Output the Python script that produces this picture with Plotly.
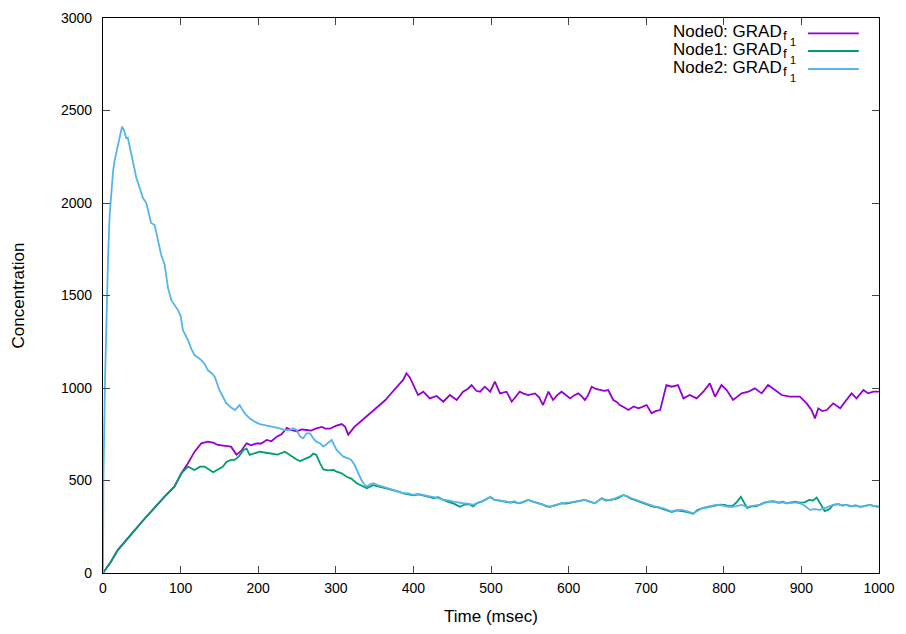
import plotly.graph_objects as go

# ---------------- data ----------------
t0 = [0, 10, 19, 30, 41, 55, 67, 80, 92, 101, 109.5, 118, 126.7, 135, 142, 148, 155, 165, 172, 178,
      185, 191, 198, 204, 211, 217, 224, 230, 237, 243, 250, 256, 262.5, 268, 275, 282, 287, 292.5, 300, 307.6,
      312, 316, 324, 331, 337, 344, 350, 357, 364, 370, 377, 382.7, 387, 391, 395, 398, 406, 412.8, 421, 430,
      438.5, 447, 455.8, 464, 470, 475, 481, 486, 492, 499, 505, 511.6, 520, 526.7, 531, 537, 542, 548, 556.7, 562,
      567, 574, 580, 585, 591, 596, 602, 607, 612.5, 617, 621, 625, 629.8, 635, 640.5, 646, 651, 657.6, 662, 666,
      672, 677, 684, 690, 695, 700.6, 707, 712, 718, 722, 726, 733, 741, 748, 756, 765, 773.6, 782, 788.7, 797,
      803.7, 812, 818, 823, 831.6, 840, 848.8, 857, 866, 874.6, 885, 898, 906.8, 913, 917.5, 921.8, 927, 932.6, 941, 950,
      958, 964.7, 971, 980, 986, 992.7, 1000]
v0 = [0, 60, 124, 180, 232, 300, 358, 415, 467, 539, 593, 656, 701, 710, 705, 692, 688, 683, 640, 660,
      701, 690, 701, 700, 719, 712, 737, 750, 785, 772, 766, 776, 773, 770, 782, 790, 780, 780, 795, 805,
      790, 748, 790, 815, 835, 863, 880, 908, 935, 965, 1000, 1025, 1045, 1079, 1060, 1034, 962, 980, 944, 957,
      926, 962, 935, 980, 995, 1016, 985, 980, 1007, 980, 1034, 971, 980, 926, 950, 980, 970, 962, 971, 950,
      908, 980, 935, 960, 980, 965, 944, 960, 971, 955, 935, 960, 1007, 995, 989, 985, 989, 935, 925, 908,
      895, 881, 900, 890, 898, 908, 863, 875, 881, 950, 1016, 1007, 1016, 944, 962, 944, 980, 1025, 953, 1016,
      989, 935, 955, 971, 980, 998, 971, 1016, 989, 962, 953, 953, 917, 881, 836, 890, 875, 881, 917, 890,
      935, 971, 944, 989, 971, 980, 980]

t1 = [0, 10, 19, 30, 41, 55, 67, 80, 92, 101, 109.5, 118, 125, 131, 142, 148, 154.6, 159, 165, 169.7,
      175, 181, 185, 189, 196, 202, 210, 217, 225, 234.5, 243, 249, 254, 261, 267, 271, 275, 280, 284, 290,
      297, 301, 307, 314, 320, 327, 334, 340, 348, 355, 361, 368, 374, 381, 387, 394, 400, 407, 413, 420,
      426, 432, 438.5, 445, 452, 460, 466, 472, 477, 482, 488, 494, 499, 505, 511, 518, 525, 530, 535, 541,
      548, 555, 561, 567, 571, 576, 583, 591, 597, 602, 608, 614, 621, 628, 634, 638, 642.6, 648, 655.5, 661,
      666, 670.5, 676, 681, 687, 693, 698, 704, 710, 715.6, 722, 727, 733, 739, 745.7, 752, 760.7, 766, 772, 778,
      785, 790, 795, 801, 806, 812, 817, 822, 826, 830, 836, 842, 846.6, 852, 858, 864, 870, 876, 881, 887,
      892, 898, 904, 910, 915, 919.7, 924, 930, 936, 941, 948, 953, 958, 964, 970, 975.5, 981, 988, 994, 1000]
v1 = [0, 60, 124, 180, 232, 300, 358, 415, 467, 539, 575, 557, 575, 575, 545, 560, 575, 600, 611, 611,
      630, 665, 672, 638, 650, 656, 650, 647, 640, 656, 629, 615, 605, 620, 629, 645, 638, 590, 560, 555,
      557, 548, 540, 520, 510, 485, 470, 458, 475, 468, 460, 455, 445, 440, 430, 425, 420, 425, 418, 412,
      405, 410, 395, 385, 375, 358, 370, 372, 360, 378, 386, 400, 410, 395, 390, 386, 380, 384, 377, 382,
      395, 385, 377, 370, 360, 358, 365, 377, 375, 380, 386, 390, 395, 385, 377, 390, 404, 392, 395, 400,
      410, 422, 412, 400, 392, 382, 372, 365, 358, 355, 345, 338, 330, 338, 335, 330, 320, 340, 350, 355,
      362, 365, 370, 368, 362, 365, 385, 412, 380, 352, 360, 362, 370, 380, 386, 388, 380, 385, 377, 380,
      385, 380, 382, 395, 392, 408, 375, 335, 345, 368, 372, 365, 368, 360, 365, 358, 362, 368, 362, 358]

t2 = [0, 0.5, 2.6, 4.3, 6.5, 8.6, 10.5, 12.9, 15, 17.2, 20, 22, 24.5, 27, 30, 32, 35, 38.7, 43, 47.3,
      51.5, 55.8, 60, 62, 66.6, 70.9, 75, 79.5, 83.8, 88, 92, 96.6, 100, 103, 109.5, 114, 118, 122, 126.7, 131,
      135, 140, 144, 150, 155, 159, 165, 170, 176, 182.6, 189, 195.5, 202, 208, 214, 221, 228, 234, 241, 245,
      249.6, 254, 258, 262.5, 266.8, 271, 275, 280, 284, 289, 294.7, 301, 305, 309.7, 316, 320, 324, 327, 333, 337,
      340, 344, 348, 354, 361, 367, 374, 380, 387, 393, 400, 406, 412.8, 419, 425.6, 432, 438.5, 445, 451.4, 458,
      464, 470, 477, 482, 488, 494, 499, 505, 511, 518, 525, 530, 535, 541, 548, 555, 561, 567, 571, 576,
      583, 591, 597, 602, 608, 614, 621, 628, 634, 642.6, 648, 655.5, 661, 666, 670.5, 676, 681, 687, 693, 698,
      704, 710, 715.6, 722, 727, 733, 739, 745.7, 752, 760.7, 766, 772, 778, 785, 790, 795, 801, 806, 812, 817,
      823, 829.5, 836, 841, 846.6, 852, 858, 863.8, 870, 876, 881, 887, 892, 898, 904, 911, 917, 924, 930, 935,
      941, 948, 953, 958, 964, 970, 975.5, 981, 988, 994, 1000]
v2 = [0, 500, 1043, 1395, 1700, 1935, 2060, 2169, 2230, 2277, 2331, 2360, 2413, 2395, 2351, 2353, 2297, 2223, 2135, 2081,
      2027, 2000, 1935, 1892, 1881, 1791, 1719, 1665, 1540, 1475, 1450, 1421, 1390, 1313, 1259, 1210, 1178, 1165, 1151, 1130,
      1097, 1080, 1061, 989, 950, 917, 895, 881, 908, 863, 836, 818, 805, 800, 795, 791, 782, 773, 773, 782,
      773, 737, 728, 755, 755, 728, 710, 700, 683, 700, 719, 665, 647, 629, 620, 611, 585, 557, 503, 478,
      467, 480, 485, 475, 467, 458, 449, 440, 431, 430, 422, 428, 422, 418, 413, 405, 395, 393, 386, 380,
      377, 375, 368, 378, 386, 398, 413, 395, 392, 386, 382, 388, 377, 384, 395, 385, 377, 368, 362, 358,
      368, 377, 380, 382, 386, 390, 395, 385, 377, 404, 395, 395, 405, 415, 422, 415, 404, 396, 386, 377,
      370, 362, 358, 350, 342, 332, 340, 341, 335, 323, 335, 350, 358, 364, 368, 368, 362, 358, 358, 362,
      368, 358, 360, 365, 368, 378, 384, 386, 380, 382, 377, 378, 382, 377, 365, 341, 345, 341, 350, 360,
      368, 372, 365, 368, 362, 365, 358, 362, 368, 362, 358]

series_labels = ["Node0: GRAD", "Node1: GRAD", "Node2: GRAD"]
sub_label = "f"
subsub_label = "1"
series_colors = ["#9400D3", "#009E73", "#56B4E9"]

x_ticks = [0, 100, 200, 300, 400, 500, 600, 700, 800, 900, 1000]
y_ticks = [0, 500, 1000, 1500, 2000, 2500, 3000]

# ---------------- figure ----------------
FONT = "Liberation Sans, Arial, sans-serif"
TXT = 17
fig = go.Figure()
for t, v, name, col in zip([t0, t1, t2], [v0, v1, v2], series_labels, series_colors):
    fig.add_trace(go.Scatter(x=t, y=v, mode="lines", name=name + "_{f_1}",
                             line=dict(color=col, width=1.8), showlegend=False))

# gnuplot-style key: text on the left (with nested subscript), line sample on the right
key_line_y = [0.9724, 0.9405, 0.9081]
for name, col, ky in zip(series_labels, series_colors, key_line_y):
    fig.add_annotation(xref="paper", yref="paper", x=0.876, y=ky + 0.0035, text=name,
                       xanchor="right", yanchor="middle", showarrow=False, borderpad=0,
                       font=dict(family=FONT, size=TXT, color="black"))
    fig.add_annotation(xref="paper", yref="paper", x=0.8745, y=ky - 0.0036, text=sub_label,
                       xanchor="left", yanchor="middle", showarrow=False, borderpad=0,
                       font=dict(family=FONT, size=TXT * 0.8, color="black"))
    fig.add_annotation(xref="paper", yref="paper", x=0.8835, y=ky - 0.0162, text=subsub_label,
                       xanchor="left", yanchor="middle", showarrow=False, borderpad=0,
                       font=dict(family=FONT, size=TXT * 0.64, color="black"))
    fig.add_shape(type="line", xref="paper", yref="paper", x0=0.9085, x1=0.974, y0=ky, y1=ky,
                  line=dict(color=col, width=1.8))

axis_common = dict(showgrid=False, zeroline=False, showline=True, mirror="allticks",
                   linecolor="black", linewidth=1.2, ticks="inside", ticklen=7,
                   tickcolor="#444", tickwidth=1, tickfont=dict(family=FONT, size=14, color="black"))

fig.update_xaxes(range=[0, 1000], tickvals=x_ticks, ticktext=[str(x) for x in x_ticks],
                 ticklabelstandoff=2,
                 title=dict(text="Time (msec)", font=dict(family=FONT, size=TXT, color="black"), standoff=15),
                 **axis_common)
fig.update_yaxes(range=[0, 3000], tickvals=y_ticks, ticktext=[str(y) for y in y_ticks],
                 ticklabelstandoff=7,
                 title=dict(text="Concentration", font=dict(family=FONT, size=TXT, color="black"), standoff=31),
                 **axis_common)

fig.update_layout(width=906, height=634, margin=dict(l=103, r=27, t=18, b=61, autoexpand=False),
                  paper_bgcolor="white", plot_bgcolor="white",
                  font=dict(family=FONT, size=14, color="black"))

fig.write_html("out.html")
